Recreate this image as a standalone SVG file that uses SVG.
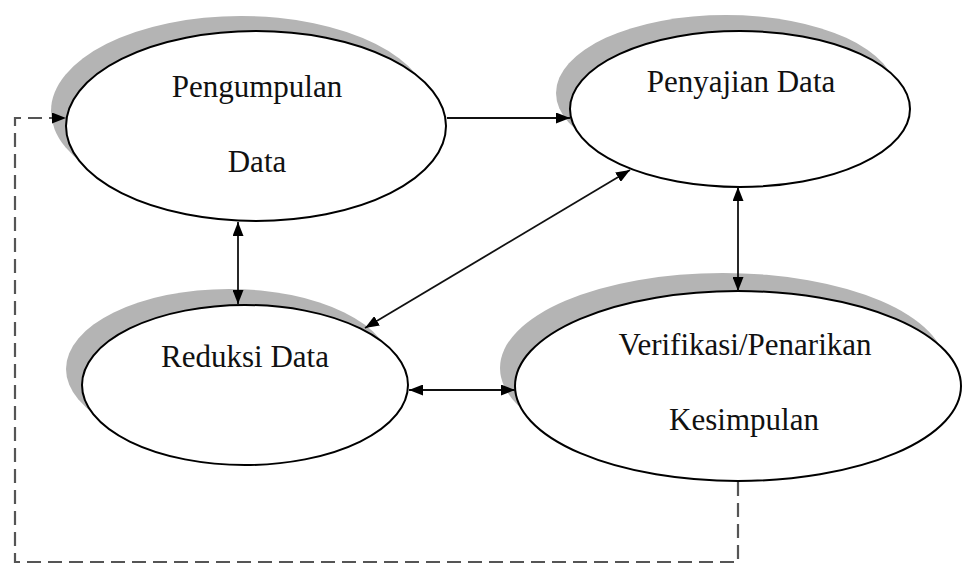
<svg xmlns="http://www.w3.org/2000/svg" width="963" height="564" viewBox="0 0 963 564">
<style>
.shadow{fill:#b4b4b4;stroke:none}
.node{fill:#ffffff;stroke:#000000;stroke-width:2}
.label{font-family:"Liberation Serif","Times New Roman",serif;font-size:31px;fill:#111111;text-anchor:middle}
.conn{stroke:#111111;stroke-width:1.8;fill:none}
.dash{stroke:#555555;stroke-width:2.2;fill:none;stroke-dasharray:14 7}
</style>
<defs>
<marker id="arrow" viewBox="0 0 14 11" refX="14" refY="5.5" markerWidth="14" markerHeight="11" markerUnits="userSpaceOnUse" orient="auto-start-reverse">
<path d="M0,0 L14,5.5 L0,11 z" fill="#000000"/>
</marker>
</defs>
<rect width="963" height="564" fill="#ffffff"/>
<g id="pengumpulan">
<ellipse class="shadow" cx="241" cy="111" rx="190" ry="95"/>
<ellipse class="node" cx="256" cy="126" rx="190" ry="95"/>
<text class="label" x="257" y="97">Pengumpulan</text>
<text class="label" x="257" y="172">Data</text>
</g>
<g id="penyajian">
<ellipse class="shadow" cx="726" cy="93" rx="170" ry="78"/>
<ellipse class="node" cx="740" cy="109" rx="170" ry="78"/>
<text class="label" x="741" y="92">Penyajian Data</text>
</g>
<g id="reduksi">
<ellipse class="shadow" cx="229" cy="369" rx="163" ry="80"/>
<ellipse class="node" cx="245" cy="385" rx="163" ry="80"/>
<text class="label" x="245" y="367">Reduksi Data</text>
</g>
<g id="verifikasi">
<ellipse class="shadow" cx="723" cy="368" rx="223" ry="95"/>
<ellipse class="node" cx="738" cy="386" rx="223" ry="95"/>
<text class="label" x="745" y="355">Verifikasi/Penarikan</text>
<text class="label" x="744" y="430">Kesimpulan</text>
</g>
<g id="connectors">
<path class="conn" d="M447,118 L570,118" marker-end="url(#arrow)"/>
<path class="conn" d="M630,170 L365,328" marker-start="url(#arrow)" marker-end="url(#arrow)"/>
<path class="conn" d="M238,222 L238,304" marker-start="url(#arrow)" marker-end="url(#arrow)"/>
<path class="conn" d="M738,187 L738,291" marker-start="url(#arrow)" marker-end="url(#arrow)"/>
<path class="conn" d="M409,390 L515,390" marker-start="url(#arrow)" marker-end="url(#arrow)"/>
<path class="dash" d="M738,482 L738,562 L15,562 L15,118 L66,118" marker-end="url(#arrow)"/>
</g>
</svg>
